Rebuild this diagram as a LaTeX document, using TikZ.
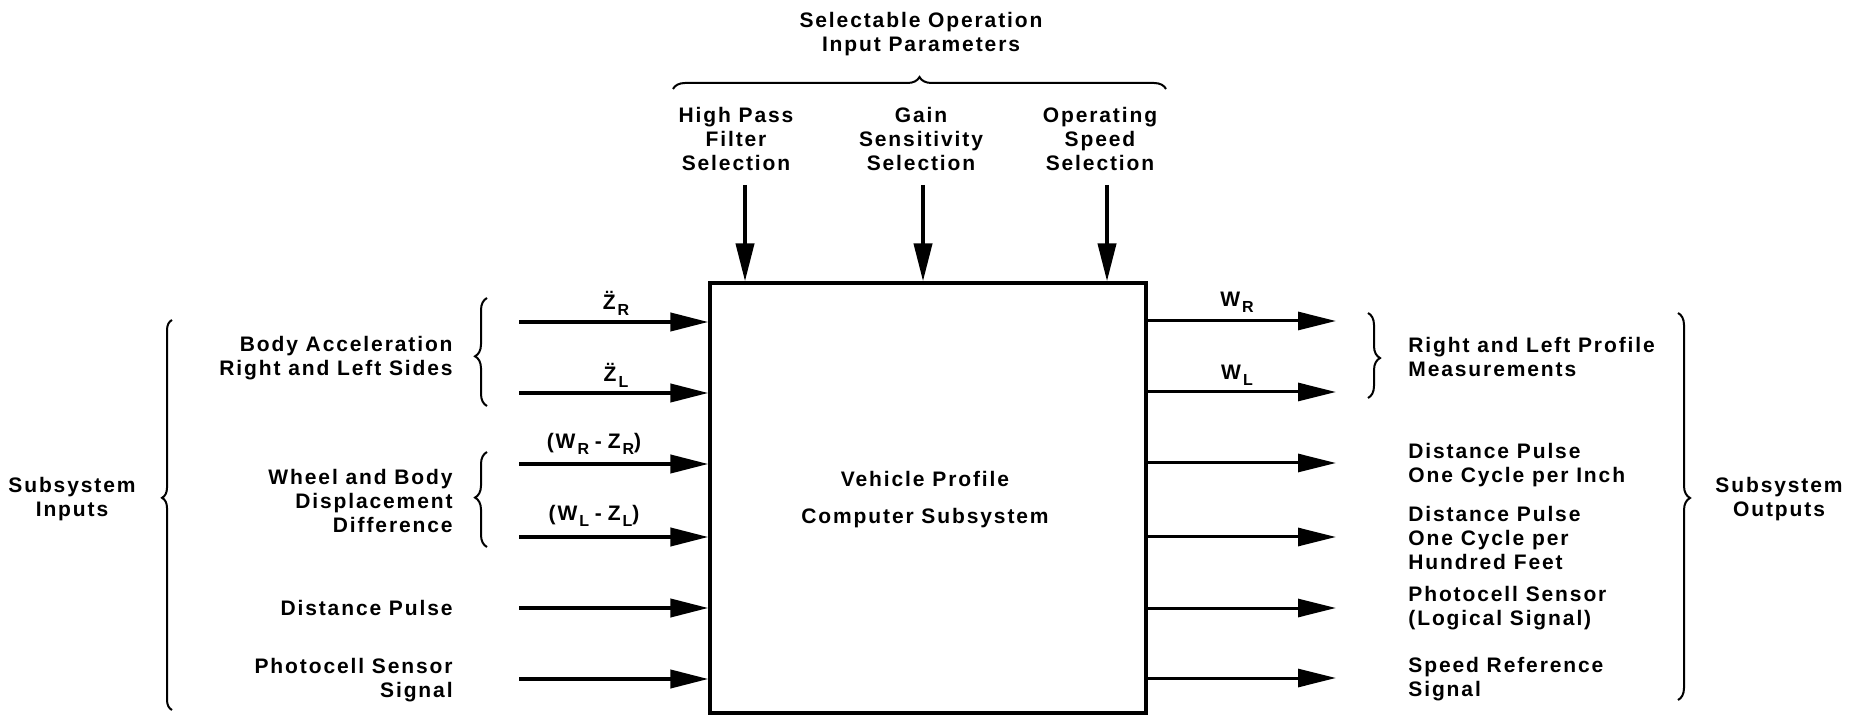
\documentclass[tikz,border=0pt]{standalone}
\usepackage{fontspec}
\setmainfont{Liberation Sans}[LetterSpace=9]
\usetikzlibrary{arrows.meta,decorations.pathreplacing}

% small lowered index letter for the signal names
\newcommand{\lsub}[1]{\kern1pt\raisebox{-0.55ex}{\fontsize{8}{8}\selectfont #1}}

\tikzset{
  lbl/.style={font=\fontsize{10.5}{12}\selectfont\bfseries, inner sep=0pt},
  inarrow/.style={line width=2pt, -{Triangle[length=19pt,width=9pt]}},
  outarrow/.style={line width=1.5pt, -{Triangle[length=19pt,width=9pt]}},
  curly/.style={line width=1pt, decorate},
  mainbox/.style={draw, line width=1.6pt, minimum width=218pt, minimum height=215pt}
}

\begin{document}
\begin{tikzpicture}[x=0.5pt, y=-0.5pt]
\useasboundingbox (0,0) rectangle (1862,715);

% the computer subsystem
\node[mainbox] (box) at (928,498) {};
\node[lbl, align=center] (boxtext) at (925,500) {Vehicle Profile\\[6.5pt]Computer Subsystem};

% selectable parameters at the top
\node[lbl, align=center] (title) at (921,34) {Selectable Operation\\Input Parameters};
\draw[curly, decoration={brace, amplitude=6pt, aspect=0.5}] (673,89) -- (1166,89);

\node[lbl, align=center] (hp) at (736,139) {High Pass\\Filter\\Selection};
\node[lbl, align=center] (gs) at (921,139) {Gain\\Sensitivity\\Selection};
\node[lbl, align=center] (os) at (1100,139) {Operating\\Speed\\Selection};

\coordinate (t1) at (745,185);
\coordinate (t2) at (923,185);
\coordinate (t3) at (1107,185);
\draw[inarrow] (t1) -- (t1 |- box.north);
\draw[inarrow] (t2) -- (t2 |- box.north);
\draw[inarrow] (t3) -- (t3 |- box.north);

% inputs on the left
\coordinate (i1) at (519,322);
\coordinate (i2) at (519,393);
\coordinate (i3) at (519,464);
\coordinate (i4) at (519,537);
\coordinate (i5) at (519,608);
\coordinate (i6) at (519,679);
\foreach \k in {1,...,6} {\draw[inarrow] (i\k) -- (i\k -| box.west);}

\node[lbl] (zr) at (616,303) {\"Z\lsub{R}};
\node[lbl] (zl) at (616,375) {\"Z\lsub{L}};
\node[lbl] (wzr) at (594,444) {(W\lsub{R}\;-\;Z\lsub{R})};
\node[lbl] (wzl) at (594,516) {(W\lsub{L}\;-\;Z\lsub{L})};

\draw[curly, decoration={brace, amplitude=6pt, aspect=0.46}] (487,406) -- (487,298);
\draw[curly, decoration={brace, amplitude=6pt, aspect=0.52}] (487,547) -- (487,452);

\node[lbl, align=right, anchor=east] (acc) at (453,358) {Body Acceleration\\Right and Left Sides};
\node[lbl, align=right, anchor=east] (disp) at (453,501) {Wheel and Body\\Displacement\\Difference};
\node[lbl, align=right, anchor=east] (dpin) at (453,608) {Distance Pulse};
\node[lbl, align=right, anchor=east] (pcin) at (453,680) {Photocell Sensor\\Signal};

\draw[curly, decoration={brace, amplitude=5pt, aspect=0.544}] (172,710) -- (172,320);
\node[lbl, align=center] (sin) at (72,499) {Subsystem\\Inputs};

% outputs on the right
\coordinate (o1) at (1336,321);
\coordinate (o2) at (1336,392);
\coordinate (o3) at (1336,463);
\coordinate (o4) at (1336,537);
\coordinate (o5) at (1336,608);
\coordinate (o6) at (1336,678);
\foreach \k in {1,...,6} {\draw[outarrow] (o\k -| box.east) -- (o\k);}

\node[lbl] (wr) at (1237,302) {W\lsub{R}};
\node[lbl] (wl) at (1237,375) {W\lsub{L}};

\draw[curly, decoration={brace, amplitude=6pt, aspect=0.53}] (1368,313) -- (1368,398);

\node[lbl, align=left, anchor=west] (prof) at (1408,357) {Right and Left Profile\\Measurements};
\node[lbl, align=left, anchor=west] (dpi) at (1408,465) {Distance Pulse\\One Cycle per Inch};
\node[lbl, align=left, anchor=west] (dph) at (1408,538) {Distance Pulse\\One Cycle per\\Hundred Feet};
\node[lbl, align=left, anchor=west] (pcout) at (1408,608) {Photocell Sensor\\(Logical Signal)};
\node[lbl, align=left, anchor=west] (spd) at (1408,679) {Speed Reference\\Signal};

\draw[curly, decoration={brace, amplitude=6pt, aspect=0.478}] (1678,313) -- (1678,700);
\node[lbl, align=center] (sout) at (1779,499) {Subsystem\\Outputs};
\end{tikzpicture}
\end{document}
